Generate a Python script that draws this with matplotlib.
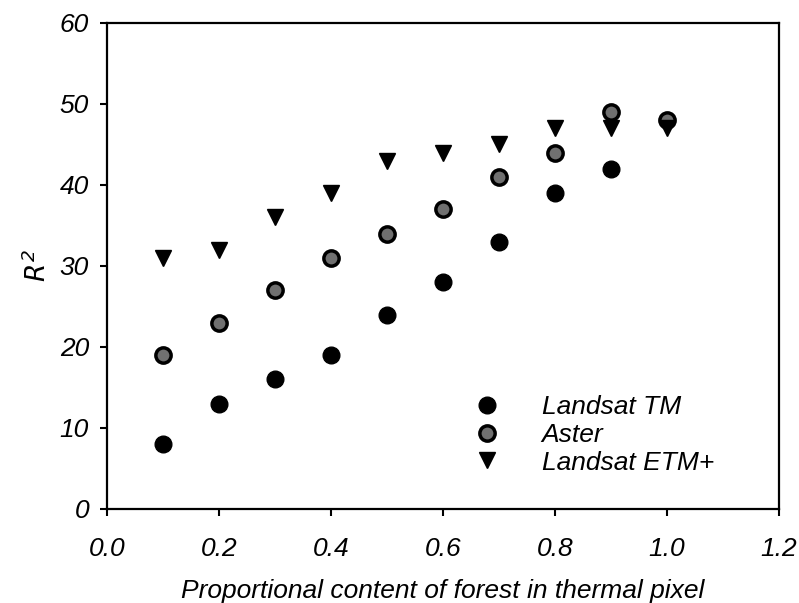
import numpy as np
import matplotlib
matplotlib.use("Agg")
import matplotlib.pyplot as plt

plt.rcParams['font.family'] = ['Liberation Sans', 'DejaVu Sans']
plt.rcParams['font.style'] = 'italic'

# data
x_tm = [0.1, 0.2, 0.3, 0.4, 0.5, 0.6, 0.7, 0.8, 0.9]
tm = [8, 13, 16, 19, 24, 28, 33, 39, 42]
x_aster = [0.1, 0.2, 0.3, 0.4, 0.5, 0.6, 0.7, 0.8, 0.9, 1.0]
aster = [19, 23, 27, 31, 34, 37, 41, 44, 49, 48]
x_etm = [0.1, 0.2, 0.3, 0.4, 0.5, 0.6, 0.7, 0.8, 0.9, 1.0]
etm = [31, 32, 36, 39, 43, 44, 45, 47, 47, 47]

fs = 19

fig = plt.figure(figsize=(7.99, 6.03), dpi=100)
ax = fig.add_axes([0.134, 0.156, 0.841, 0.806])

ax.plot(x_tm, tm, "o", color="black", markersize=12, label="Landsat TM")
ax.plot(x_aster, aster, "o", markerfacecolor="#707070", markeredgecolor="black",
        markeredgewidth=2.5, markersize=11, label="Aster")
ax.plot(x_etm, etm, "v", color="black", markersize=12, label="Landsat ETM+")

ax.set_xlim(0, 1.2)
ax.set_ylim(0, 60)
ax.set_xticks(np.arange(0, 1.21, 0.2))
ax.set_xticklabels([f"{v:.1f}" for v in np.arange(0, 1.21, 0.2)])
ax.set_yticks(range(0, 61, 10))

for s in ax.spines.values():
    s.set_linewidth(1.6)
ax.tick_params(direction="out", length=5, width=1.5, labelsize=fs)
ax.tick_params(axis="x", pad=15)
ax.tick_params(axis="y", pad=8)

ax.set_xlabel("Proportional content of forest in thermal pixel", fontsize=fs, labelpad=13)
ax.set_ylabel("$R^2$", fontsize=fs, labelpad=6)

ax.legend(loc="upper left", bbox_to_anchor=(0.517, 0.262), frameon=False, fontsize=fs,
          handletextpad=1.3, labelspacing=0.15, borderpad=0, handlelength=1.5)

fig.savefig("out.png", dpi=100)
